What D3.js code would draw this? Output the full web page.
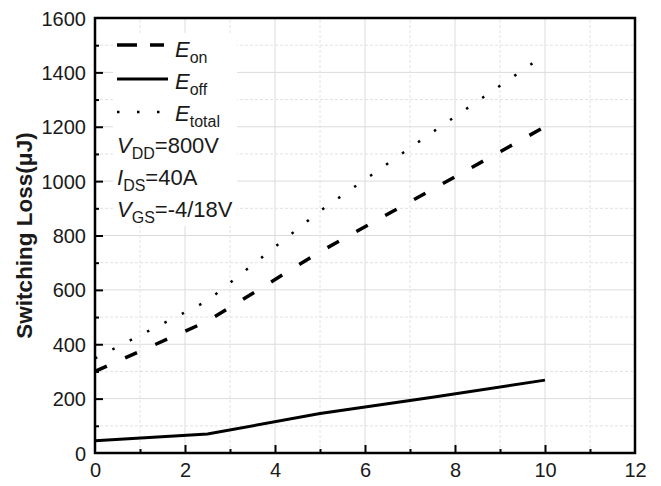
<!DOCTYPE html>
<html>
<head>
<meta charset="utf-8">
<script src="https://cdn.jsdelivr.net/npm/d3@7"></script>
<style>
  html, body { margin: 0; padding: 0; background: #fff; }
  svg { display: block; font-family: Arial, "Liberation Sans", sans-serif; }
</style>
</head>
<body>
<div id="app"></div>
<script>
// data
const gateRes = [0, 2.5, 5, 7.5, 10];
const eOn = [300, 485, 740, 970, 1200];
const eOff = [45, 70, 145, 205, 268];
const eTotal = [348, 560, 890, 1180, 1465];

const xTicks = [0, 2, 4, 6, 8, 10, 12];
const yTicks = [0, 200, 400, 600, 800, 1000, 1200, 1400, 1600];

const width = 661;
const height = 486;
const margin = { top: 18, right: 26, bottom: 33, left: 95 };

const svg = d3
  .select("#app")
  .append("svg")
  .attr("width", width)
  .attr("height", height)
  .attr("viewBox", [0, 0, width, height]);

const x = d3.scaleLinear().domain([0, 12]).range([margin.left, width - margin.right]);
const y = d3.scaleLinear().domain([0, 1600]).range([height - margin.bottom, margin.top]);

// grid: solid at major, dashed at minor
const grid = svg.append("g");
grid.selectAll(".vmaj")
  .data(d3.range(2, 12, 2))
  .join("line")
  .attr("x1", (d) => x(d)).attr("x2", (d) => x(d))
  .attr("y1", y(0)).attr("y2", y(1600))
  .attr("stroke", "#dcdcdc").attr("stroke-width", 1);
grid.selectAll(".vmin")
  .data(d3.range(1, 12, 2))
  .join("line")
  .attr("x1", (d) => x(d)).attr("x2", (d) => x(d))
  .attr("y1", y(0)).attr("y2", y(1600))
  .attr("stroke", "#e2e2e2").attr("stroke-width", 1)
  .attr("stroke-dasharray", "3,2");
grid.selectAll(".hmaj")
  .data(d3.range(200, 1600, 200))
  .join("line")
  .attr("x1", x(0)).attr("x2", x(12))
  .attr("y1", (d) => y(d)).attr("y2", (d) => y(d))
  .attr("stroke", "#dcdcdc").attr("stroke-width", 1);
grid.selectAll(".hmin")
  .data(d3.range(100, 1600, 200))
  .join("line")
  .attr("x1", x(0)).attr("x2", x(12))
  .attr("y1", (d) => y(d)).attr("y2", (d) => y(d))
  .attr("stroke", "#e2e2e2").attr("stroke-width", 1)
  .attr("stroke-dasharray", "3,2");

// axes with inward ticks
const fmt = d3.format("d");
const xAxis = svg.append("g")
  .attr("transform", `translate(0,${y(0)})`)
  .call(d3.axisBottom(x).tickValues(xTicks).tickSize(-8).tickFormat(fmt));
const xMinor = svg.append("g")
  .attr("transform", `translate(0,${y(0)})`)
  .call(d3.axisBottom(x).tickValues(d3.range(1, 12, 2)).tickSize(-4).tickFormat(""));
const yAxis = svg.append("g")
  .attr("transform", `translate(${x(0)},0)`)
  .call(d3.axisLeft(y).tickValues(yTicks).tickSize(-8).tickPadding(10).tickFormat(fmt));
const yMinor = svg.append("g")
  .attr("transform", `translate(${x(0)},0)`)
  .call(d3.axisLeft(y).tickValues(d3.range(100, 1600, 200)).tickSize(-4).tickFormat(""));

[xAxis, xMinor, yAxis, yMinor].forEach((g) => {
  g.select(".domain").remove();
  g.selectAll(".tick line").attr("stroke", "#000").attr("stroke-width", 2);
  g.selectAll(".tick text").attr("fill", "#1a1a1a").style("font-size", "20px");
});
// hide the ticks at the corners
xAxis.selectAll(".tick").filter((d) => d === 0 || d === 12).select("line").remove();
yAxis.selectAll(".tick").filter((d) => d === 0 || d === 1600).select("line").remove();
yAxis.selectAll(".tick text").attr("x", -9).attr("dy", "0.35em");
xAxis.selectAll(".tick text").attr("y", 10).attr("dy", "0.71em");

// curves
const line = d3.line().x((d) => x(d[0])).y((d) => y(d[1]));
const series = [
  { vals: eOff, dash: null, w: 3 },
  { vals: eOn, dash: "13,20", w: 3.5 },
  { vals: eTotal, dash: "2.5,17", w: 2.5 },
];
svg.append("g")
  .selectAll("path")
  .data(series)
  .join("path")
  .attr("d", (s) => line(gateRes.map((g, i) => [g, s.vals[i]])))
  .attr("fill", "none")
  .attr("stroke", "#000")
  .attr("stroke-width", (s) => s.w)
  .attr("stroke-dasharray", (s) => s.dash);

// frame
svg.append("rect")
  .attr("x", x(0)).attr("y", y(1600))
  .attr("width", x(12) - x(0)).attr("height", y(0) - y(1600))
  .attr("fill", "none").attr("stroke", "#000").attr("stroke-width", 2.5);

// legend (white box hides the grid behind it)
const legend = svg.append("g");
legend.append("rect")
  .attr("x", 113).attr("y", 33).attr("width", 124).attr("height", 193)
  .attr("fill", "#fff");
legend.append("line").attr("x1", 117).attr("x2", 164).attr("y1", 45).attr("y2", 45)
  .attr("stroke", "#000").attr("stroke-width", 3.5).attr("stroke-dasharray", "20,13");
legend.append("line").attr("x1", 117).attr("x2", 168).attr("y1", 79).attr("y2", 79)
  .attr("stroke", "#000").attr("stroke-width", 3);
legend.append("line").attr("x1", 117).attr("x2", 160).attr("y1", 112).attr("y2", 112)
  .attr("stroke", "#000").attr("stroke-width", 2.5).attr("stroke-dasharray", "2.5,17.5");

function subLabel(px, py, main, sub, rest) {
  const t = legend.append("text")
    .attr("x", px).attr("y", py)
    .attr("fill", "#1a1a1a")
    .style("font-size", "22px");
  t.append("tspan").text(main).style("font-style", "italic");
  t.append("tspan").text(sub).attr("dy", 6).style("font-size", "16px");
  if (rest) t.append("tspan").text(rest).attr("dy", -6);
}
subLabel(175, 57, "E", "on");
subLabel(175, 89, "E", "off");
subLabel(175, 121, "E", "total");
subLabel(117, 153, "V", "DD", "=800V");
subLabel(117, 185, "I", "DS", "=40A");
subLabel(117, 217, "V", "GS", "=-4/18V");

// y title
svg.append("text")
  .attr("transform", `translate(32,${(y(0) + y(1600)) / 2}) rotate(-90)`)
  .attr("text-anchor", "middle")
  .attr("fill", "#1a1a1a")
  .style("font-size", "22.5px")
  .style("font-weight", "bold")
  .text("Switching Loss(μJ)");
</script>
</body>
</html>
